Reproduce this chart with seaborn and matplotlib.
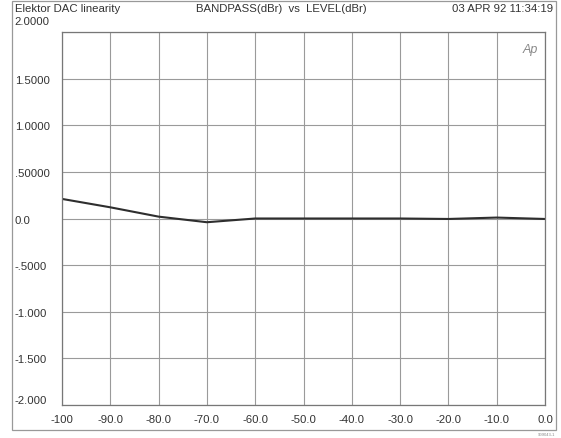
import matplotlib
matplotlib.use("Agg")
import matplotlib.pyplot as plt
import matplotlib.transforms as mtransforms
import seaborn as sns
import pandas as pd
from matplotlib.patches import Rectangle

# data
level_dbr = [-100, -90, -80, -70, -60, -50, -40, -30, -20, -10, 0]
bandpass_dbr = [0.21, 0.12, 0.02, -0.04, 0.0, 0.0, 0.0, 0.0, -0.005, 0.01, -0.005]

x_ticks = [-100, -90, -80, -70, -60, -50, -40, -30, -20, -10, 0]
x_labels = ["-100", "-90.0", "-80.0", "-70.0", "-60.0", "-50.0",
            "-40.0", "-30.0", "-20.0", "-10.0", "0.0"]
y_ticks = [2.0, 1.5, 1.0, 0.5, 0.0, -0.5, -1.0, -1.5, -2.0]
y_labels = ["2.0000", "1.5000", "1.0000", ".50000", "0.0",
            "-.5000", "-1.000", "-1.500", "-2.000"]

df = pd.DataFrame({"level": level_dbr, "bandpass": bandpass_dbr})

sns.set_style("white")
plt.rcParams["font.family"] = ["Liberation Sans", "DejaVu Sans"]
txt = "#333333"

fig = plt.figure(figsize=(5.61, 4.39), dpi=100)
ax = fig.add_axes([0.1105, 0.075, 0.861, 0.850])

sns.lineplot(data=df, x="level", y="bandpass", ax=ax, color="#2e2e2e", linewidth=1.5)

ax.set_xlim(-100, 0)
ax.set_ylim(-2.0, 2.0)
ax.set_xticks(x_ticks)
ax.set_xticklabels(x_labels)
ax.set_yticks(y_ticks)
ax.set_yticklabels(y_labels)
ax.set_xlabel("")
ax.set_ylabel("")
ax.grid(True, color="#9a9a9a", linewidth=0.8)
for s in ax.spines.values():
    s.set_color("#777777")
    s.set_linewidth(0.9)

ax.tick_params(axis="both", length=0, labelsize=8.2, labelcolor=txt)
ax.tick_params(axis="y", pad=34)
ax.tick_params(axis="x", pad=6.5)
ylabs = ax.get_yticklabels()
for lab in ylabs:
    lab.set_horizontalalignment("left")
# top label sits above the frame, bottom one just above the bottom line
ylabs[0].set_transform(ylabs[0].get_transform() +
                       mtransforms.ScaledTranslation(0, 8.5 / 72, fig.dpi_scale_trans))
ylabs[-1].set_verticalalignment("bottom")

# header line
fig.text(15 / 561, 1 - 9 / 439, "Elektor DAC linearity", fontsize=8.2, color=txt,
         ha="left", va="center")
fig.text(281 / 561, 1 - 9 / 439, "BANDPASS(dBr)  vs  LEVEL(dBr)", fontsize=8.2,
         color=txt, ha="center", va="center")
fig.text(553 / 561, 1 - 9 / 439, "03 APR 92 11:34:19", fontsize=8.2, color=txt,
         ha="right", va="center")

# Ap logo
ax.text(0.985, 0.955, "Ap", transform=ax.transAxes, fontsize=9, style="italic",
        color="#888888", ha="right", va="center")

# outer frame
fig.patches.append(Rectangle((12 / 561, 1 - 431 / 439), 544 / 561, 429 / 439,
                             transform=fig.transFigure, fill=False,
                             edgecolor="#999999", linewidth=0.9))
fig.text(555 / 561, 1 - 435 / 439, "909043-1", fontsize=3, color="#888888",
         ha="right", va="center")

plt.savefig("out.png", dpi=100)
